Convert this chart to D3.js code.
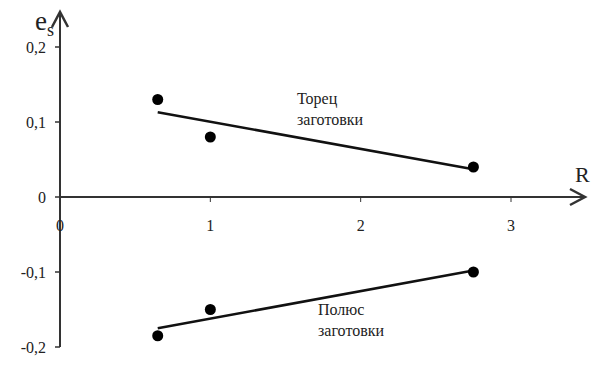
<!DOCTYPE html>
<html lang="ru">
  <head>
    <meta charset="UTF-8" />
    <title>e_s от R</title>
    <script src="https://d3js.org/d3.v7.min.js"></script>
    <style>
      body { margin: 0; background: #fff; }
    </style>
  </head>
  <body>
    <div id="chart"></div>
    <script>
      // данные
      const radii = [0.65, 1.0, 2.75];
      const torecValues = [0.13, 0.08, 0.04];
      const polusValues = [-0.185, -0.15, -0.1];
      // линии тренда (концы, по картинке)
      const torecTrend = [[0.65, 0.113], [2.75, 0.037]];
      const polusTrend = [[0.65, -0.175], [2.75, -0.098]];
      const xTicks = [1, 2, 3];
      const yTicks = [0.2, 0.1, 0, -0.1, -0.2];

      const width = 601, height = 390;
      const serif = "'Liberation Serif', 'Times New Roman', 'DejaVu Serif', serif";
      const svg = d3.select("#chart").append("svg")
        .attr("width", width).attr("height", height)
        .attr("font-family", serif);

      const x = d3.scaleLinear().domain([0, 3]).range([60, 511]);
      const y = d3.scaleLinear().domain([-0.2, 0.2]).range([347, 47]);

      const axisColor = "#333";
      const textColor = "#222";

      // оси со стрелками
      svg.append("line")
        .attr("x1", x(0)).attr("x2", 583)
        .attr("y1", y(0)).attr("y2", y(0))
        .attr("stroke", axisColor).attr("stroke-width", 2);
      svg.append("path")
        .attr("d", `M570,${y(0) - 8} L585,${y(0)} L570,${y(0) + 8}`)
        .attr("fill", "none").attr("stroke", axisColor).attr("stroke-width", 2.5);

      svg.append("line")
        .attr("x1", x(0)).attr("x2", x(0))
        .attr("y1", y(-0.2)).attr("y2", 14)
        .attr("stroke", axisColor).attr("stroke-width", 2);
      svg.append("path")
        .attr("d", `M${x(0) - 8},27 L${x(0)},12 L${x(0) + 8},27`)
        .attr("fill", "none").attr("stroke", axisColor).attr("stroke-width", 2.5);

      // деления Y
      const fmt = d => d === 0 ? "0" : d.toFixed(1).replace(".", ",");
      svg.selectAll(".ytick").data(yTicks).enter().append("line")
        .attr("x1", x(0) - 5).attr("x2", x(0))
        .attr("y1", d => y(d)).attr("y2", d => y(d))
        .attr("stroke", axisColor).attr("stroke-width", 1.5);
      svg.selectAll(".ylab").data(yTicks).enter().append("text")
        .attr("x", 46).attr("y", d => y(d))
        .attr("dy", "0.35em").attr("text-anchor", "end")
        .attr("font-size", 16).attr("fill", textColor)
        .text(fmt);

      // деления X
      svg.selectAll(".xtick").data(xTicks).enter().append("line")
        .attr("x1", d => x(d)).attr("x2", d => x(d))
        .attr("y1", y(0)).attr("y2", y(0) + 5)
        .attr("stroke", axisColor).attr("stroke-width", 1);
      svg.selectAll(".xlab").data([0].concat(xTicks)).enter().append("text")
        .attr("x", d => x(d)).attr("y", 231)
        .attr("text-anchor", "middle").attr("font-size", 16).attr("fill", textColor)
        .text(d => d);

      // подписи осей
      const ylab = svg.append("text").attr("x", 35).attr("y", 30)
        .attr("font-size", 27).attr("fill", textColor);
      ylab.append("tspan").text("e");
      ylab.append("tspan").attr("dy", 6).attr("font-size", 18).text("s");
      svg.append("text").attr("x", 575).attr("y", 182)
        .attr("font-size", 22).attr("fill", textColor).text("R");

      // линии тренда
      const line = d3.line().x(d => x(d[0])).y(d => y(d[1]));
      [torecTrend, polusTrend].forEach(t => {
        svg.append("path").attr("d", line(t))
          .attr("fill", "none").attr("stroke", "#111").attr("stroke-width", 2.5);
      });

      // точки
      [torecValues, polusValues].forEach(vals => {
        svg.selectAll(null).data(vals).enter().append("circle")
          .attr("cx", (d, i) => x(radii[i])).attr("cy", d => y(d))
          .attr("r", 5.5).attr("fill", "#000");
      });

      // подписи серий
      const label = (lines, lx, ly) => {
        lines.forEach((s, i) => {
          svg.append("text").attr("x", lx).attr("y", ly + i * 21)
            .attr("font-size", 16).attr("fill", textColor).text(s);
        });
      };
      label(["Торец", "заготовки"], 297, 104);
      label(["Полюс", "заготовки"], 318, 315);
    </script>
  </body>
</html>
